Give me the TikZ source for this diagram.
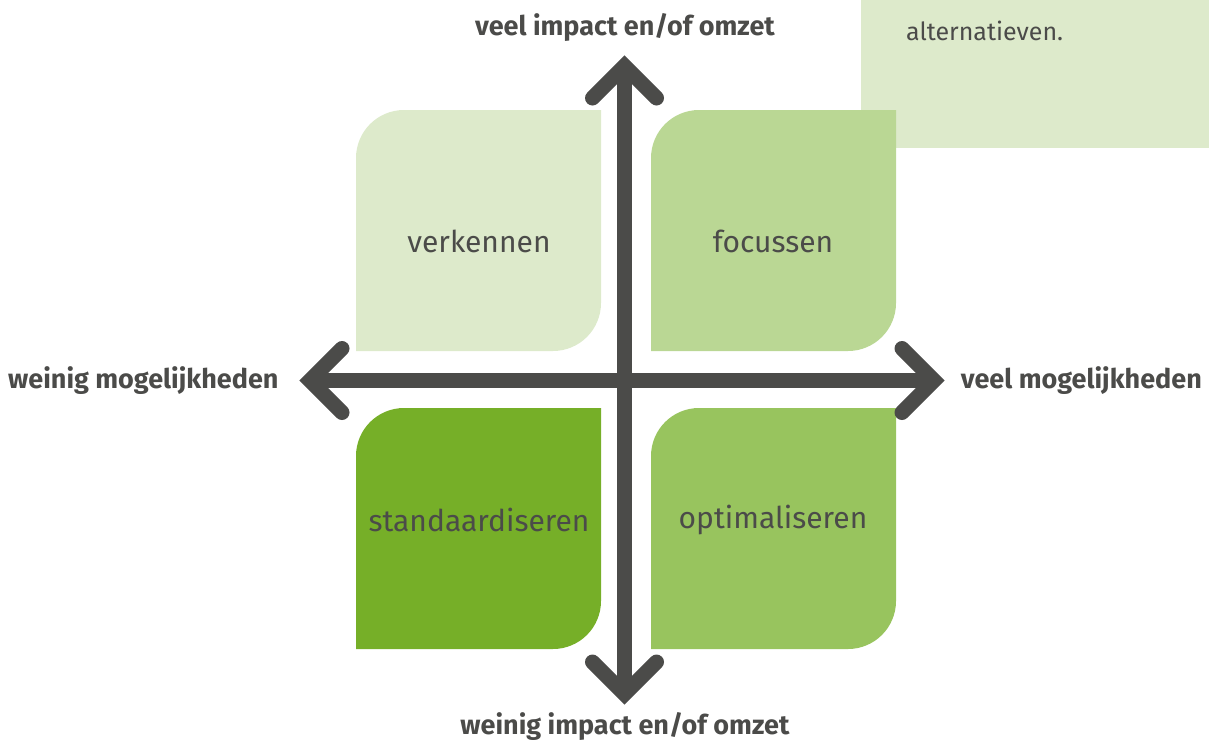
\documentclass[tikz,border=0pt]{standalone}
\usepackage{fontspec}
\setmainfont{Fira Sans}
\definecolor{axisgray}{HTML}{4B4B49}
\definecolor{cpale}{HTML}{DDEACB}
\definecolor{clight}{HTML}{BAD794}
\definecolor{cmid}{HTML}{98C45E}
\definecolor{cdark}{HTML}{76AF28}
\newcommand{\leafshape}[5]{%
  % #1 x1 (left), #2 y1 (top), #3 x2 (right), #4 y2 (bottom), #5 colour
  \fill[#5] (#1,#4) -- (#1,#2+48) .. controls (#1,#2+21.5) and (#1+21.5,#2) .. (#1+48,#2)
    -- (#3,#2) -- (#3,#4-48) .. controls (#3,#4-21.5) and (#3-21.5,#4) .. (#3-48,#4) -- cycle;}
\tikzset{
  axisline/.style={draw=axisgray, line width=15pt, line cap=butt},
  chevron/.style={draw=axisgray, line width=15pt, line cap=round, line join=miter},
  quadtext/.style={text=axisgray, font=\fontsize{30}{34}\selectfont, inner sep=0pt},
  axislabel/.style={text=axisgray, font=\fontsize{27}{31}\selectfont\bfseries, inner sep=0pt},
}
\begin{document}
\begin{tikzpicture}[x=1pt,y=-1pt]
\useasboundingbox (0,0) rectangle (1209,742);
% note box top right
\fill[cpale] (861,0) rectangle (1209,148);
\node[text=axisgray, font=\fontsize{25}{29}\selectfont, anchor=base west, inner sep=0pt] (note) at (906,40) {alternatieven.};
% quadrants
\leafshape{356}{110}{601}{351}{cpale}
\leafshape{651}{110}{896}{351}{clight}
\leafshape{356}{408}{601}{649}{cdark}
\leafshape{651}{408}{896}{649}{cmid}
\node[quadtext] (verk) at (479,241) {verkennen};
\node[quadtext] (focu) at (773,241) {focussen};
\node[quadtext] (stan) at (479,520) {standaardiseren};
\node[quadtext] (opti) at (773,520) {optimaliseren};
% axes
\coordinate (top) at (624.5,66);
\coordinate (bot) at (624.5,694);
\coordinate (lft) at (310,380.5);
\coordinate (rgt) at (934,380.5);
\draw[axisline] (top) -- (bot);
\draw[axisline] (lft) -- (rgt);
\draw[chevron] ([xshift=-32pt,yshift=-32pt]top) -- (top) -- ([xshift=32pt,yshift=-32pt]top);
\draw[chevron] ([xshift=-32pt,yshift=32pt]bot) -- (bot) -- ([xshift=32pt,yshift=32pt]bot);
\draw[chevron] ([xshift=32pt,yshift=32pt]lft) -- (lft) -- ([xshift=32pt,yshift=-32pt]lft);
\draw[chevron] ([xshift=-32pt,yshift=32pt]rgt) -- (rgt) -- ([xshift=-32pt,yshift=-32pt]rgt);
% axis labels
\node[axislabel] (ltop) at (625,27) {veel impact en/of omzet};
\node[axislabel] (lbot) at (625,726) {weinig impact en/of omzet};
\node[axislabel, anchor=west] (llft) at (8,381) {weinig mogelijkheden};
\node[axislabel, anchor=east] (lrgt) at (1202,381) {veel mogelijkheden};
\end{tikzpicture}
\end{document}
